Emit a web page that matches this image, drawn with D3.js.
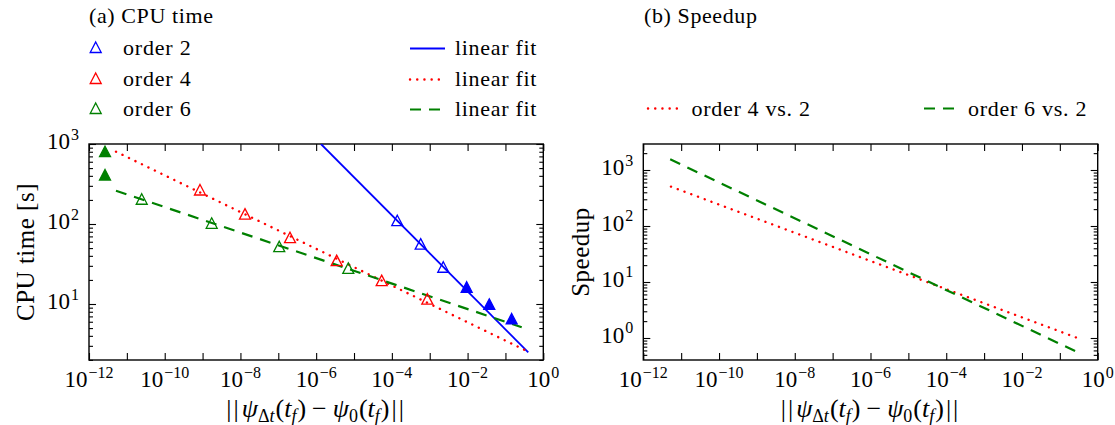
<!DOCTYPE html>
<html><head><meta charset="utf-8">
<script src="https://cdn.jsdelivr.net/npm/d3@7"></script>
<style>
body{margin:0;background:#fff;}
svg{display:block;}
text{font-family:"Liberation Serif","Times New Roman",serif;fill:#000;}
</style></head>
<body><svg id="c" width="1115" height="425"></svg>
<script>
// ---------- data ----------
const colors = ["#0000ff", "#ff0000", "#008000"];
const orderLabels = ["order 2", "order 4", "order 6"];
const fitLabel = "linear fit";
const speedupLabels = ["order 4 vs. 2", "order 6 vs. 2"];

// order 2 (blue)
const o2OpenX = [1.39e-4, 5.77e-4, 2.28e-3];
const o2OpenY = [110, 56, 28.8];
const o2FillX = [9.46e-3, 3.74e-2, 0.146];
const o2FillY = [16.2, 9.9, 6.5];
// order 4 (red)
const o4OpenX = [8.55e-10, 1.32e-8, 2.04e-7, 3.48e-6, 5.38e-5, 8.63e-4];
const o4OpenY = [266, 133, 67.4, 34.8, 19.6, 11.5];
// order 6 (green)
const o6OpenX = [2.47e-11, 1.74e-9, 1.06e-7, 7.06e-6];
const o6OpenY = [204, 102, 52, 27.9];
const o6FillX = [2.65e-12, 2.65e-12];
const o6FillY = [801, 410];

// linear fits (end points)
const fit2X = [1.34e-6, 0.401], fit2Y = [1000, 2.49];
const fit4X = [5.16e-12, 0.389], fit4Y = [802, 2.55];
const fit6X = [5.16e-12, 0.269], fit6Y = [261, 5.12];

// speedup lines
const sp4X = [5.37e-12, 0.305], sp4Y = [504, 0.989];
const sp6X = [5.13e-12, 0.275], sp6Y = [1552, 0.570];

const xTickExps = d3.range(-12, 1);
const yTickExpsA = [1, 2, 3];
const yTickExpsB = [0, 1, 2, 3];

// ---------- drawing ----------
const svg = d3.select("#c");
const FS_TICK = 23, FS_SUP = 16, FS_LAB = 25, FS_LEG = 22, FS_SUB = 18;

const panels = [
  {x0: 89, x1: 543.3, y0: 144, y1: 360, ydom: [Math.pow(10, 0.3), 1000], yexps: yTickExpsA, ylabel: "CPU time [s]", ylabX: 33.5},
  {x0: 643.3, x1: 1097.7, y0: 144, y1: 360, ydom: [Math.pow(10, -0.3929), Math.pow(10, 3.4643)], yexps: yTickExpsB, ylabel: "Speedup", ylabX: 589}
];
panels.forEach(p => {
  p.x = d3.scaleLog().domain([1e-12, 1]).range([p.x0, p.x1]);
  p.y = d3.scaleLog().domain(p.ydom).range([p.y1, p.y0]);
});

function supLabel(sel, exp) {
  sel.append("tspan").text("10");
  sel.append("tspan").attr("font-size", FS_SUP).attr("dy", -9.5).attr("dx", 1)
     .text((exp < 0 ? "\u2212" : "") + Math.abs(exp));
}

function minorVals(dom) {
  const out = [];
  const lo = Math.floor(Math.log10(dom[0])), hi = Math.ceil(Math.log10(dom[1]));
  for (let e = lo; e <= hi; e++) for (let m = 2; m <= 9; m++) {
    const v = m * Math.pow(10, e);
    if (v >= dom[0] && v <= dom[1]) out.push(v);
  }
  return out;
}

panels.forEach((p, i) => {
  const g = svg.append("g");
  const xMaj = xTickExps.map(e => Math.pow(10, e));
  const yMaj = p.yexps.map(e => Math.pow(10, e));
  const yMin = minorVals(p.ydom);
  const axes = [
    [d3.axisBottom(p.x).tickValues(xMaj).tickSizeInner(-7), `translate(0,${p.y1})`],
    [d3.axisTop(p.x).tickValues(xMaj).tickSizeInner(-7), `translate(0,${p.y0})`],
    [d3.axisLeft(p.y).tickValues(yMaj).tickSizeInner(-7), `translate(${p.x0},0)`],
    [d3.axisLeft(p.y).tickValues(yMin).tickSizeInner(-4), `translate(${p.x0},0)`],
    [d3.axisRight(p.y).tickValues(yMaj).tickSizeInner(-7), `translate(${p.x1},0)`],
    [d3.axisRight(p.y).tickValues(yMin).tickSizeInner(-4), `translate(${p.x1},0)`]
  ];
  axes.forEach(([ax, tr]) => {
    const a = g.append("g").attr("transform", tr)
      .call(ax.tickSizeOuter(0).tickFormat(""));
    a.select(".domain").remove();
    a.selectAll("line").attr("stroke", "#000").attr("stroke-width", 1.1);
  });
  g.append("rect").attr("x", p.x0).attr("y", p.y0)
    .attr("width", p.x1 - p.x0).attr("height", p.y1 - p.y0)
    .attr("fill", "none").attr("stroke", "#000").attr("stroke-width", 1.4);

  // x tick labels
  xTickExps.filter(e => e % 2 === 0).forEach(e => {
    const t = g.append("text").attr("x", p.x(Math.pow(10, e))).attr("y", 387)
      .attr("text-anchor", "middle").attr("font-size", FS_TICK);
    supLabel(t, e);
  });
  // y tick labels
  p.yexps.forEach(e => {
    const t = g.append("text").attr("x", p.x0 - 10).attr("y", p.y(Math.pow(10, e)) + 5)
      .attr("text-anchor", "end").attr("font-size", FS_TICK);
    supLabel(t, e);
  });
  // axis labels
  g.append("text").attr("transform", `translate(${p.ylabX},${(p.y0 + p.y1) / 2}) rotate(-90)`)
    .attr("text-anchor", "middle").attr("font-size", FS_LAB).attr("letter-spacing", 0.5)
    .text(p.ylabel);
  const xl = g.append("text").attr("x", (p.x0 + p.x1) / 2).attr("y", 416.5)
    .attr("text-anchor", "middle").attr("font-size", FS_LAB + 1);
  xl.append("tspan").attr("letter-spacing", 2).text("||");
  xl.append("tspan").attr("font-style", "italic").attr("dx", 1).text("\u03C8");
  xl.append("tspan").attr("font-size", FS_SUB).attr("dy", 5).text("\u0394");
  xl.append("tspan").attr("font-size", FS_SUB).attr("font-style", "italic").text("t");
  xl.append("tspan").attr("dy", -5).attr("dx", 1).text("(");
  xl.append("tspan").attr("font-style", "italic").text("t");
  xl.append("tspan").attr("font-size", FS_SUB).attr("font-style", "italic").attr("dy", 5).text("f");
  xl.append("tspan").attr("dy", -5).attr("dx", 1).text(")");
  xl.append("tspan").attr("dx", 6).text("\u2212");
  xl.append("tspan").attr("font-style", "italic").attr("dx", 6).text("\u03C8");
  xl.append("tspan").attr("font-size", FS_SUB).attr("dy", 5).text("0");
  xl.append("tspan").attr("dy", -5).attr("dx", 1).text("(");
  xl.append("tspan").attr("font-style", "italic").text("t");
  xl.append("tspan").attr("font-size", FS_SUB).attr("font-style", "italic").attr("dy", 5).text("f");
  xl.append("tspan").attr("dy", -5).attr("dx", 1).attr("letter-spacing", 2).text(")||");
});

const A = panels[0], B = panels[1];
const styles = [
  {dash: null, w: 1.8, cap: "butt"},
  {dash: "0.1,7.1", w: 2.4, cap: "round"},
  {dash: "11,8", w: 2.2, cap: "butt"}
];
function drawLine(p, xs, ys, ci, si, clipId) {
  const line = d3.line().x(d => p.x(d[0])).y(d => p.y(d[1]));
  const s = styles[si];
  svg.append("path").datum(d3.zip(xs, ys)).attr("d", line)
    .attr("fill", "none").attr("stroke", colors[ci]).attr("stroke-width", s.w)
    .attr("stroke-linecap", s.cap).attr("stroke-dasharray", s.dash)
    .attr("clip-path", `url(#${clipId})`);
}
const defs = svg.append("defs");
panels.forEach((p, i) => {
  defs.append("clipPath").attr("id", "clip" + i).append("rect")
    .attr("x", p.x0).attr("y", p.y0).attr("width", p.x1 - p.x0).attr("height", p.y1 - p.y0);
});

drawLine(A, fit2X, fit2Y, 0, 0, "clip0");
drawLine(A, fit4X, fit4Y, 1, 1, "clip0");
drawLine(A, fit6X, fit6Y, 2, 2, "clip0");
drawLine(B, sp4X, sp4Y, 1, 1, "clip1");
drawLine(B, sp6X, sp6Y, 2, 2, "clip1");

const tri = "M0,-5.5L5.5,5L-5.5,5Z";
function drawMarkers(p, xs, ys, ci, filled) {
  svg.append("g").selectAll("path").data(d3.zip(xs, ys)).join("path")
    .attr("d", tri)
    .attr("transform", d => `translate(${p.x(d[0])},${p.y(d[1])})`)
    .attr("fill", filled ? colors[ci] : "none")
    .attr("stroke", colors[ci]).attr("stroke-width", 1.3);
}
drawMarkers(A, o2OpenX, o2OpenY, 0, false);
drawMarkers(A, o2FillX, o2FillY, 0, true);
drawMarkers(A, o4OpenX, o4OpenY, 1, false);
drawMarkers(A, o6OpenX, o6OpenY, 2, false);
drawMarkers(A, o6FillX, o6FillY, 2, true);

// ---------- legends ----------
svg.append("text").attr("x", 89).attr("y", 23).attr("font-size", FS_LEG)
  .attr("letter-spacing", 0.6).text("(a) CPU time");
svg.append("text").attr("x", 644).attr("y", 23).attr("font-size", FS_LEG)
  .attr("letter-spacing", 0.6).text("(b) Speedup");
const rowY = [55, 86, 116];
orderLabels.forEach((lab, i) => {
  svg.append("path").attr("d", tri).attr("transform", `translate(95.7,${rowY[i] - 7.5})`)
    .attr("fill", "none").attr("stroke", colors[i]).attr("stroke-width", 1.3);
  svg.append("text").attr("x", 123).attr("y", rowY[i]).attr("font-size", FS_LEG)
    .attr("letter-spacing", 0.8).text(lab);
  const s = styles[i];
  svg.append("line").attr("x1", 410).attr("x2", 445).attr("y1", rowY[i] - 6.5).attr("y2", rowY[i] - 6.5)
    .attr("stroke", colors[i]).attr("stroke-width", s.w).attr("stroke-linecap", s.cap)
    .attr("stroke-dasharray", s.dash);
  svg.append("text").attr("x", 455).attr("y", rowY[i]).attr("font-size", FS_LEG)
    .attr("letter-spacing", 0.7).text(fitLabel);
});
const spLeg = [{lx: 648, tx: 691.5, ci: 1, si: 1}, {lx: 924, tx: 968, ci: 2, si: 2}];
speedupLabels.forEach((lab, i) => {
  const L = spLeg[i], s = styles[L.si];
  svg.append("line").attr("x1", L.lx).attr("x2", L.lx + 32).attr("y1", 116 - 7.5).attr("y2", 116 - 7.5)
    .attr("stroke", colors[L.ci]).attr("stroke-width", s.w).attr("stroke-linecap", s.cap)
    .attr("stroke-dasharray", s.dash);
  svg.append("text").attr("x", L.tx).attr("y", 116).attr("font-size", FS_LEG)
    .attr("letter-spacing", 0.7).text(lab);
});
</script></body></html>
